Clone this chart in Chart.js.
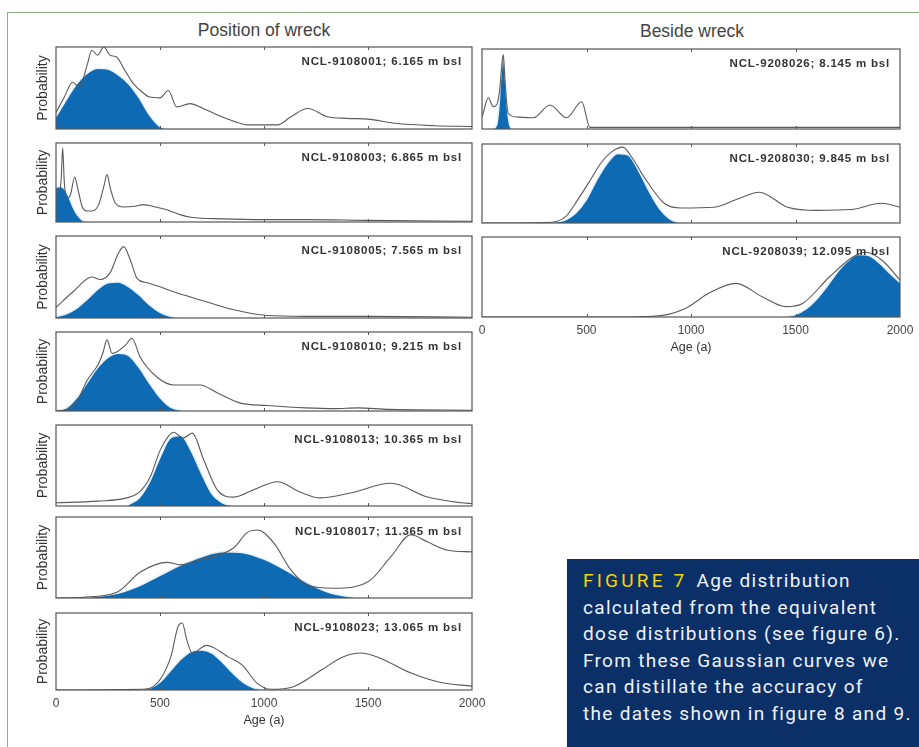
<!DOCTYPE html>
<html>
<head>
<meta charset="utf-8">
<script src="https://cdn.jsdelivr.net/npm/chart.js@4.4.1/dist/chart.umd.min.js"></script>
<style>
  body { margin: 0; width: 919px; height: 747px; background: #fff; position: relative; overflow: hidden; font-family: 'Liberation Sans', Arial, sans-serif; }
  #frame { position: absolute; left: 7px; top: 12px; width: 920px; height: 740px; border-left: 1.5px solid #8ab486; border-top: 1.5px solid #8ab486; }
  canvas { position: absolute; }
  .coltitle { position: absolute; font-size: 17.5px; color: #444; transform: translateX(-50%); white-space: nowrap; }
  #caption { position: absolute; left: 567px; top: 559px; width: 352px; height: 188px; background: #0b2f67; color: #eef2f7;
    font-family: Roboto, 'Noto Sans', sans-serif; font-size: 19px; line-height: 26.6px; letter-spacing: 1.3px; padding: 9px 0 0 16px; box-sizing: border-box; white-space: nowrap; }
  #caption .fig { color: #f2d600; letter-spacing: 3.2px; margin-right: 3px; }
</style>
</head>
<body>
<div id="frame"></div>
<div class="coltitle" style="left:264px; top:20px;">Position of wreck</div>
<div class="coltitle" style="left:692px; top:21px;">Beside wreck</div>
<div id="caption"><span class="fig">FIGURE 7</span> Age distribution<br>calculated from the equivalent<br>dose distributions (see figure 6).<br>From these Gaussian curves we<br>can distillate the accuracy of<br>the dates shown in figure 8 and 9.</div>

<script>
// sample labels
const labelsLeft = [
  'NCL-9108001; 6.165 m bsl',
  'NCL-9108003; 6.865 m bsl',
  'NCL-9108005; 7.565 m bsl',
  'NCL-9108010; 9.215 m bsl',
  'NCL-9108013; 10.365 m bsl',
  'NCL-9108017; 11.365 m bsl',
  'NCL-9108023; 13.065 m bsl',
];
const labelsRight = [
  'NCL-9208026; 8.145 m bsl',
  'NCL-9208030; 9.845 m bsl',
  'NCL-9208039; 12.095 m bsl',
];
const xTickVals = [0, 500, 1000, 1500, 2000];

// position of wreck
const p1Ages = [0, 40, 80, 112, 152, 172, 200, 230, 260, 290, 330, 370, 410, 450, 500, 540, 580, 645, 700, 760, 860, 920, 1000, 1065, 1130, 1210, 1305, 1400, 1500, 1630, 1820, 2000];
const p1Curve = [0.2, 0.39, 0.57, 0.51, 0.8, 0.96, 0.9, 1.0, 0.9, 0.88, 0.72, 0.56, 0.46, 0.39, 0.38, 0.47, 0.27, 0.31, 0.26, 0.19, 0.09, 0.05, 0.05, 0.05, 0.15, 0.25, 0.15, 0.13, 0.12, 0.07, 0.04, 0.03];
const p1FitAges = [0, 50, 100, 150, 200, 250, 300, 350, 400, 450, 500, 550];
const p1Fit = [0.15, 0.36, 0.55, 0.68, 0.74, 0.73, 0.66, 0.55, 0.38, 0.17, 0.03, 0];

const p2Ages = [0, 15, 25, 32, 40, 55, 70, 90, 105, 125, 150, 175, 205, 230, 245, 262, 285, 325, 380, 420, 480, 540, 600, 650, 800, 1000, 1200, 1500, 2000];
const p2Curve = [0.42, 0.38, 0.55, 0.94, 0.5, 0.3, 0.35, 0.57, 0.42, 0.2, 0.14, 0.14, 0.22, 0.45, 0.6, 0.42, 0.24, 0.19, 0.2, 0.22, 0.19, 0.15, 0.09, 0.06, 0.04, 0.03, 0.03, 0.02, 0.01];
const p2FitAges = [0, 20, 40, 60, 80, 100, 120, 140];
const p2Fit = [0.44, 0.45, 0.42, 0.33, 0.2, 0.1, 0.04, 0];

const p3Ages = [0, 82, 173, 212, 260, 300, 325, 357, 390, 438, 500, 565, 694, 855, 1015, 1200, 1500, 2000];
const p3Curve = [0.13, 0.32, 0.5, 0.47, 0.55, 0.79, 0.87, 0.71, 0.48, 0.43, 0.38, 0.32, 0.22, 0.1, 0.03, 0.02, 0.02, 0.01];
const p3FitAges = [0, 50, 100, 150, 200, 250, 300, 350, 400, 450, 500, 550, 600];
const p3Fit = [0.02, 0.05, 0.12, 0.23, 0.35, 0.43, 0.44, 0.38, 0.28, 0.16, 0.07, 0.02, 0];

const p4Ages = [0, 53, 100, 150, 205, 227, 245, 270, 293, 333, 365, 405, 485, 565, 694, 775, 887, 1015, 1200, 1340, 1450, 1600, 2000];
const p4Curve = [0, 0.02, 0.12, 0.39, 0.6, 0.75, 0.9, 0.73, 0.75, 0.83, 0.92, 0.68, 0.43, 0.33, 0.33, 0.23, 0.1, 0.07, 0.04, 0.03, 0.04, 0.02, 0.01];
const p4FitAges = [0, 50, 100, 150, 200, 250, 300, 350, 400, 450, 500, 550, 600];
const p4Fit = [0.01, 0.04, 0.17, 0.36, 0.55, 0.68, 0.73, 0.7, 0.55, 0.35, 0.17, 0.05, 0.01];

const p5Ages = [0, 200, 340, 405, 453, 501, 540, 565, 612, 655, 710, 775, 855, 950, 1065, 1175, 1270, 1415, 1610, 1787, 1947, 2000];
const p5Curve = [0.04, 0.06, 0.1, 0.18, 0.36, 0.69, 0.86, 0.91, 0.84, 0.9, 0.57, 0.2, 0.11, 0.2, 0.3, 0.17, 0.1, 0.16, 0.28, 0.11, 0.04, 0.03];
const p5FitAges = [350, 400, 450, 500, 550, 600, 650, 700, 750, 800, 850];
const p5Fit = [0.02, 0.1, 0.3, 0.6, 0.84, 0.87, 0.68, 0.4, 0.15, 0.04, 0];

const p6Ages = [0, 130, 293, 405, 535, 597, 694, 855, 920, 968, 1047, 1128, 1210, 1335, 1500, 1610, 1706, 1787, 1884, 2000];
const p6Curve = [0, 0.01, 0.07, 0.32, 0.44, 0.41, 0.47, 0.62, 0.81, 0.84, 0.68, 0.35, 0.16, 0.12, 0.2, 0.51, 0.78, 0.69, 0.59, 0.57];
const p6FitAges = [100, 200, 300, 400, 500, 600, 700, 800, 900, 1000, 1100, 1200, 1300, 1400, 1500];
const p6Fit = [0, 0.02, 0.06, 0.15, 0.28, 0.41, 0.51, 0.57, 0.56, 0.48, 0.35, 0.2, 0.08, 0.02, 0];

const p7Ages = [0, 414, 465, 552, 586, 607, 629, 655, 724, 759, 828, 897, 966, 1034, 1138, 1276, 1379, 1466, 1552, 1707, 1845, 2000];
const p7Curve = [0, 0.01, 0.04, 0.43, 0.82, 0.87, 0.65, 0.48, 0.58, 0.55, 0.43, 0.32, 0.09, 0.01, 0.04, 0.26, 0.43, 0.48, 0.42, 0.22, 0.1, 0.05];
const p7FitAges = [400, 450, 500, 550, 600, 650, 700, 750, 800, 850, 900, 950, 1000];
const p7Fit = [0, 0.02, 0.1, 0.25, 0.4, 0.5, 0.52, 0.48, 0.36, 0.22, 0.1, 0.03, 0];

// beside wreck
const r1Ages = [0, 6, 30, 54, 70, 85, 95, 102, 110, 125, 166, 246, 325, 405, 477, 517, 600, 1000, 1500, 2000];
const r1Curve = [0.15, 0.2, 0.39, 0.28, 0.3, 0.5, 0.8, 0.93, 0.6, 0.2, 0.15, 0.14, 0.3, 0.14, 0.34, 0.02, 0.02, 0.02, 0.02, 0.02];
const r1FitAges = [50, 70, 80, 90, 100, 110, 120, 130, 140];
const r1Fit = [0, 0.05, 0.25, 0.65, 0.9, 0.7, 0.3, 0.08, 0];

const r2Ages = [0, 330, 400, 457, 520, 569, 620, 673, 720, 776, 872, 951, 1111, 1220, 1327, 1462, 1606, 1766, 1909, 2000];
const r2Curve = [0, 0.01, 0.08, 0.29, 0.55, 0.76, 0.9, 0.96, 0.82, 0.58, 0.25, 0.19, 0.2, 0.3, 0.39, 0.2, 0.16, 0.17, 0.25, 0.2];
const r2FitAges = [350, 400, 450, 500, 550, 600, 650, 700, 750, 800, 850, 900, 950];
const r2Fit = [0.01, 0.04, 0.13, 0.3, 0.55, 0.76, 0.88, 0.86, 0.66, 0.4, 0.18, 0.05, 0];

const r3Ages = [0, 700, 864, 975, 1087, 1215, 1343, 1455, 1534, 1662, 1774, 1838, 1918, 2000];
const r3Curve = [0, 0, 0.02, 0.11, 0.3, 0.42, 0.25, 0.13, 0.17, 0.5, 0.75, 0.81, 0.7, 0.46];
const r3FitAges = [1450, 1500, 1550, 1600, 1650, 1700, 1750, 1800, 1850, 1900, 1950, 2000];
const r3Fit = [0, 0.03, 0.1, 0.22, 0.38, 0.56, 0.7, 0.78, 0.77, 0.68, 0.55, 0.43];

const leftRows = [[47, 129], [143, 222], [236, 318], [332, 411], [425, 506], [517, 598], [613, 690]];
const rightRows = [[49, 129], [144, 223], [237, 317]];

const panels = [
  { ages: p1Ages, curve: p1Curve, fitAges: p1FitAges, fit: p1Fit, label: labelsLeft[0] },
  { ages: p2Ages, curve: p2Curve, fitAges: p2FitAges, fit: p2Fit, label: labelsLeft[1] },
  { ages: p3Ages, curve: p3Curve, fitAges: p3FitAges, fit: p3Fit, label: labelsLeft[2] },
  { ages: p4Ages, curve: p4Curve, fitAges: p4FitAges, fit: p4Fit, label: labelsLeft[3] },
  { ages: p5Ages, curve: p5Curve, fitAges: p5FitAges, fit: p5Fit, label: labelsLeft[4] },
  { ages: p6Ages, curve: p6Curve, fitAges: p6FitAges, fit: p6Fit, label: labelsLeft[5] },
  { ages: p7Ages, curve: p7Curve, fitAges: p7FitAges, fit: p7Fit, label: labelsLeft[6] },
  { ages: r1Ages, curve: r1Curve, fitAges: r1FitAges, fit: r1Fit, label: labelsRight[0] },
  { ages: r2Ages, curve: r2Curve, fitAges: r2FitAges, fit: r2Fit, label: labelsRight[1] },
  { ages: r3Ages, curve: r3Curve, fitAges: r3FitAges, fit: r3Fit, label: labelsRight[2] },
];

panels.forEach((p, i) => {
  const right = i >= 7;
  const row = right ? rightRows[i - 7] : leftRows[i];
  p.box = { l: right ? 482 : 56, r: right ? 900 : 472, t: row[0], b: row[1] };
  p.right = right;
  p.bottom = right ? i === 9 : i === 6;
});

const axisFont = '"Liberation Sans", Arial, sans-serif';

// frame, inner ticks and sample label
const panelDeco = {
  id: 'panelDeco',
  afterDatasetsDraw(chart, args, opts) {
    const { ctx, chartArea: a } = chart;
    const x = chart.scales.x;
    ctx.save();
    ctx.strokeStyle = '#555';
    ctx.lineWidth = 1.2;
    ctx.strokeRect(a.left, a.top, a.right - a.left, a.bottom - a.top);
    ctx.lineWidth = 1;
    xTickVals.slice(1, -1).forEach((v) => {
      const px = Math.round(x.getPixelForValue(v)) + 0.5;
      ctx.beginPath();
      ctx.moveTo(px, a.top);
      ctx.lineTo(px, a.top + 3);
      ctx.moveTo(px, a.bottom);
      ctx.lineTo(px, a.bottom - 3);
      ctx.stroke();
    });
    ctx.fillStyle = '#333';
    ctx.font = 'bold 11.5px ' + axisFont;
    ctx.letterSpacing = '0.8px';
    ctx.textAlign = 'right';
    ctx.textBaseline = 'middle';
    ctx.fillText(opts.text, a.right - 10, a.top + 15);
    ctx.restore();
  },
};

panels.forEach((p) => {
  const pad = 3;
  const yw = p.right ? 0 : 22;
  const xh = p.bottom ? 38 : 0;
  const padR = p.bottom ? (p.right ? 919 - p.box.r : 16) : pad;
  const canvas = document.createElement('canvas');
  const w = p.box.r - p.box.l + yw + pad + padR;
  const h = p.box.b - p.box.t + xh + pad * 2;
  canvas.width = w;
  canvas.height = h;
  canvas.style.left = p.box.l - yw - pad + 'px';
  canvas.style.top = p.box.t - pad + 'px';
  canvas.style.width = w + 'px';
  canvas.style.height = h + 'px';
  document.body.appendChild(canvas);

  new Chart(canvas, {
    type: 'line',
    data: {
      datasets: [
        {
          label: 'Age distribution',
          data: p.ages.map((a, k) => ({ x: a, y: p.curve[k] })),
          borderColor: '#5a5a5a',
          borderWidth: 1.1,
          pointRadius: 0,
          fill: false,
          cubicInterpolationMode: 'monotone',
          order: 0,
        },
        {
          label: 'Gaussian',
          data: p.fitAges.map((a, k) => ({ x: a, y: p.fit[k] })),
          borderColor: '#e4f1fa',
          borderWidth: 1.5,
          backgroundColor: '#0e6bb3',
          pointRadius: 0,
          fill: 'origin',
          cubicInterpolationMode: 'monotone',
          order: 1,
        },
      ],
    },
    options: {
      responsive: false,
      animation: false,
      devicePixelRatio: 1,
      layout: { padding: { left: pad, right: padR, top: pad, bottom: pad } },
      plugins: {
        legend: { display: false },
        tooltip: { enabled: false },
        panelDeco: { text: p.label },
      },
      scales: {
        x: {
          type: 'linear',
          min: 0,
          max: 2000,
          display: p.bottom,
          afterBuildTicks: (s) => { s.ticks = xTickVals.map((v) => ({ value: v })); },
          afterFit: (s) => { s.height = xh; s.paddingLeft = 0; s.paddingRight = 0; },
          grid: { display: false, drawTicks: false },
          border: { display: false },
          ticks: { padding: 6, color: '#444', maxRotation: 0, callback: (v) => String(v), font: { size: 12, family: axisFont } },
          title: { display: true, text: 'Age (a)', color: '#333', padding: { top: 0, bottom: 0 }, font: { size: 12.5, family: axisFont } },
        },
        y: {
          min: 0,
          max: 1,
          display: !p.right,
          afterFit: (s) => { s.width = yw; },
          grid: { display: false, drawTicks: false },
          border: { display: false },
          ticks: { display: false },
          title: { display: true, text: 'Probability', color: '#333', padding: { top: 1, bottom: 0 }, font: { size: 14, family: axisFont } },
        },
      },
    },
    plugins: [panelDeco],
  });
});
</script>
</body>
</html>
